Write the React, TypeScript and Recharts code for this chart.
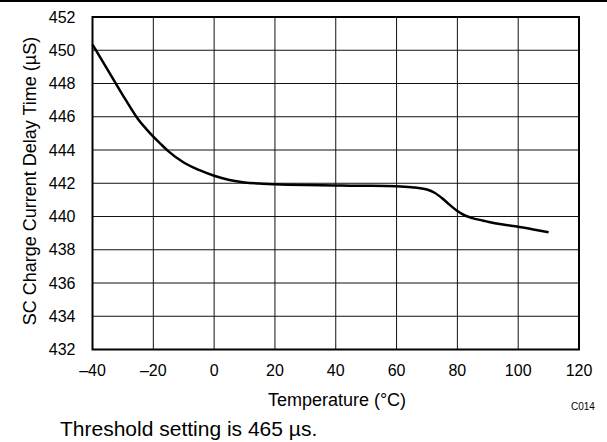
import React from 'react';
import { LineChart, Line, XAxis, YAxis, CartesianGrid, ReferenceArea } from 'recharts';

const temps = [-40, -35, -30, -27.5, -25, -22.5, -20, -17.5, -15, -10, -5, 0, 5, 10, 15, 20, 30, 40, 50, 60, 65, 70, 72.5, 75, 77.5, 80, 82.5, 85, 90, 95, 100, 105, 110];
const delay = [450.35, 448.82, 447.28, 446.55, 445.85, 445.3, 444.8, 444.35, 443.92, 443.25, 442.8, 442.45, 442.2, 442.05, 441.98, 441.94, 441.89, 441.86, 441.85, 441.82, 441.76, 441.62, 441.43, 441.1, 440.7, 440.33, 440.06, 439.9, 439.69, 439.52, 439.38, 439.22, 439.05];

const xTicks = [-40, -20, 0, 20, 40, 60, 80, 100, 120];
const yTicks = [432, 434, 436, 438, 440, 442, 444, 446, 448, 450, 452];

const data = temps.map((t, i) => ({ t, v: delay[i] }));

const font = '"Liberation Sans", Arial, sans-serif';
const tickStyle = { fill: '#000', fontSize: 16, fontFamily: font };

const App: React.FC = () => {
  return (
    <div style={{ position: 'absolute', left: 0, top: 0, width: 607, height: 442, background: '#fff', fontFamily: font, color: '#000' }}>
      <div style={{ position: 'absolute', left: 0, top: 0, width: 607, height: 2, background: '#000' }} />
      <LineChart width={607} height={442} data={data} margin={{ top: 17, right: 28, left: 0, bottom: 0 }}>
        <CartesianGrid stroke="#111" strokeWidth={1} horizontalValues={yTicks} verticalValues={xTicks} />
        <XAxis
          dataKey="t"
          type="number"
          domain={[-40, 120]}
          ticks={xTicks}
          height={92.5}
          axisLine={false}
          tickLine={false}
          tickSize={6}
          tickMargin={9}
          tick={tickStyle}
          tickFormatter={(v: number) => String(v).replace('-', '\u2013')}
        />
        <YAxis
          type="number"
          domain={[432, 452]}
          ticks={yTicks}
          width={92.5}
          axisLine={false}
          tickLine={false}
          tickSize={6}
          tickMargin={11}
          tick={tickStyle}
        />
        <ReferenceArea x1={-40} x2={120} y1={432} y2={452} fill="none" stroke="#000" strokeWidth={2} ifOverflow="visible" />
        <Line type="monotone" dataKey="v" stroke="#000" strokeWidth={2.5} dot={false} isAnimationActive={false} />
      </LineChart>
      <div style={{ position: 'absolute', left: 30, top: 181, transform: 'translate(-50%, -50%) rotate(-90deg)', whiteSpace: 'nowrap', fontSize: 18, lineHeight: '18px' }}>
        SC Charge Current Delay Time (µS)
      </div>
      <div style={{ position: 'absolute', left: 337, top: 390, transform: 'translateX(-50%)', whiteSpace: 'nowrap', fontSize: 18, lineHeight: '20px' }}>
        Temperature (°C)
      </div>
      <div style={{ position: 'absolute', left: 571, top: 401, whiteSpace: 'nowrap', fontSize: 10, lineHeight: '12px' }}>
        C014
      </div>
      <div style={{ position: 'absolute', left: 60, top: 417, whiteSpace: 'nowrap', fontSize: 21, lineHeight: '24px' }}>
        Threshold setting is 465 µs.
      </div>
    </div>
  );
};

export default App;
